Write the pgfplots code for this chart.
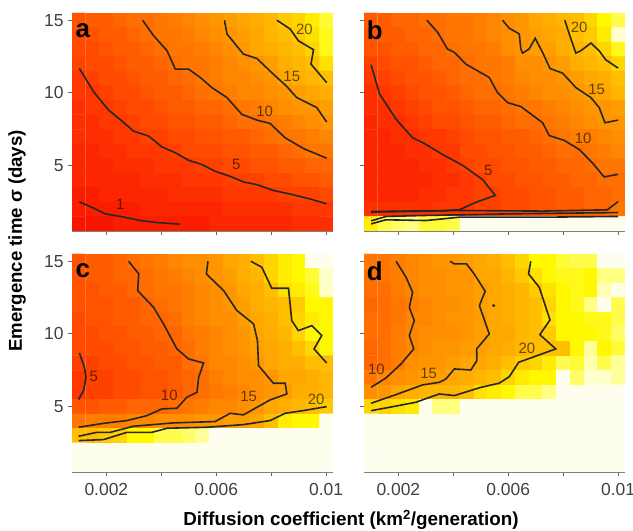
\documentclass[border=0pt]{standalone}
\usepackage{pgfplots}
\usepackage{pgfplotstable}
\pgfplotsset{compat=1.18}
\usepackage{fontspec}
\setmainfont{Liberation Sans}

% cell values, top row (y=15) first, 19 columns (x=0.001..0.01)
\pgfplotstableread[header=false,row sep=\\]{
7\\8\\8\\9\\10\\10\\11\\12\\13\\14\\15\\16\\17\\18\\19\\21\\22\\24\\27\\
6\\7\\8\\8\\9\\10\\11\\11\\12\\13\\14\\15\\16\\17\\19\\20\\21\\23\\26\\
6\\6\\7\\8\\8\\9\\10\\11\\11\\12\\13\\14\\15\\17\\18\\19\\20\\22\\26\\
5\\6\\6\\7\\8\\8\\9\\10\\11\\11\\12\\13\\14\\15\\16\\18\\19\\20\\23\\
4\\5\\6\\6\\7\\8\\8\\9\\10\\11\\12\\13\\13\\14\\15\\17\\18\\19\\20\\
4\\4\\5\\6\\6\\7\\8\\8\\9\\10\\11\\12\\13\\13\\14\\15\\16\\17\\18\\
3\\4\\4\\5\\6\\6\\7\\8\\8\\9\\9\\10\\11\\12\\13\\14\\15\\15\\16\\
3\\3\\4\\4\\5\\6\\6\\7\\7\\8\\8\\9\\10\\10\\11\\12\\13\\14\\15\\
3\\3\\3\\4\\4\\5\\5\\6\\6\\7\\7\\8\\8\\9\\10\\11\\11\\12\\13\\
2\\2\\3\\3\\4\\4\\4\\5\\6\\6\\6\\7\\7\\8\\8\\9\\10\\11\\11\\
2\\2\\2\\3\\3\\3\\4\\4\\4\\5\\5\\6\\6\\7\\7\\8\\8\\9\\9\\
2\\2\\2\\2\\2\\3\\3\\3\\4\\4\\4\\5\\5\\5\\6\\6\\7\\7\\8\\
1\\1\\2\\2\\2\\2\\2\\3\\3\\3\\3\\4\\4\\4\\4\\5\\5\\5\\6\\
1\\1\\1\\1\\1\\2\\2\\2\\2\\2\\2\\3\\3\\3\\3\\3\\4\\4\\4\\
0\\0\\0\\1\\1\\1\\1\\1\\1\\1\\2\\2\\2\\2\\2\\2\\3\\3\\3\\
}\cellsa
\pgfplotstableread[header=false,row sep=\\]{
8\\8\\9\\9\\10\\10\\11\\11\\12\\13\\14\\15\\17\\18\\19\\20\\22\\25\\28\\
7\\8\\8\\9\\9\\10\\11\\11\\12\\13\\14\\15\\16\\17\\18\\20\\21\\24\\34\\
7\\7\\8\\8\\9\\9\\10\\11\\11\\12\\14\\15\\16\\16\\18\\19\\20\\22\\26\\
5\\6\\7\\7\\8\\9\\9\\10\\11\\11\\12\\14\\14\\15\\16\\18\\19\\20\\22\\
4\\5\\6\\7\\7\\8\\9\\10\\10\\11\\12\\13\\14\\14\\15\\16\\17\\18\\20\\
3\\4\\5\\6\\7\\7\\8\\9\\10\\10\\11\\12\\13\\14\\14\\15\\16\\17\\19\\
3\\3\\4\\5\\6\\7\\7\\8\\9\\9\\10\\11\\11\\12\\13\\14\\15\\15\\16\\
2\\3\\3\\4\\5\\6\\6\\7\\8\\8\\9\\10\\10\\11\\12\\13\\14\\15\\15\\
2\\2\\3\\3\\4\\4\\5\\6\\7\\7\\8\\8\\9\\10\\11\\12\\12\\13\\14\\
2\\2\\2\\3\\3\\4\\4\\6\\6\\7\\7\\8\\8\\9\\10\\10\\11\\12\\13\\
2\\2\\2\\2\\3\\3\\4\\5\\6\\6\\7\\7\\8\\8\\9\\9\\10\\11\\11\\
2\\2\\2\\2\\2\\3\\3\\4\\5\\6\\6\\7\\7\\8\\8\\9\\9\\10\\10\\
2\\2\\2\\2\\3\\3\\4\\4\\5\\5\\6\\6\\7\\7\\8\\8\\9\\9\\10\\
3\\3\\3\\3\\3\\4\\4\\4\\5\\5\\6\\6\\7\\7\\8\\8\\9\\9\\11\\
24\\28\\29\\30\\27\\27\\28\\40\\40\\40\\40\\40\\40\\40\\40\\40\\40\\40\\40\\
}\cellsb
\pgfplotstableread[header=false,row sep=\\]{
7\\8\\8\\9\\10\\11\\12\\13\\14\\14\\15\\17\\18\\20\\22\\24\\25\\40\\40\\
7\\8\\8\\9\\9\\10\\11\\12\\13\\14\\15\\16\\18\\19\\22\\24\\25\\27\\33\\
7\\7\\8\\8\\9\\10\\11\\11\\12\\13\\14\\15\\17\\18\\20\\23\\24\\26\\33\\
7\\7\\7\\8\\8\\9\\10\\11\\12\\13\\14\\15\\16\\18\\19\\20\\21\\25\\25\\
6\\7\\7\\8\\8\\9\\9\\10\\12\\13\\14\\14\\16\\17\\18\\20\\22\\24\\25\\
6\\6\\7\\7\\8\\8\\9\\9\\11\\12\\13\\14\\15\\17\\18\\19\\22\\25\\25\\
6\\6\\6\\7\\7\\8\\8\\9\\10\\12\\13\\14\\15\\16\\17\\18\\20\\22\\25\\
5\\5\\6\\6\\7\\7\\8\\8\\10\\11\\13\\13\\14\\15\\17\\18\\18\\20\\20\\
4\\5\\5\\6\\6\\7\\7\\8\\9\\10\\12\\13\\14\\14\\15\\17\\17\\18\\19\\
4\\5\\5\\6\\6\\7\\7\\8\\9\\10\\11\\12\\13\\14\\15\\16\\18\\18\\19\\
7\\7\\8\\8\\9\\9\\9\\10\\11\\12\\13\\13\\14\\15\\17\\18\\19\\20\\21\\
11\\12\\12\\12\\13\\13\\14\\14\\14\\15\\15\\16\\16\\17\\20\\24\\25\\25\\40\\
20\\20\\21\\22\\25\\25\\28\\28\\29\\31\\40\\40\\40\\40\\40\\40\\40\\40\\40\\
40\\40\\40\\40\\40\\40\\40\\40\\40\\40\\40\\40\\40\\40\\40\\40\\40\\40\\40\\
40\\40\\40\\40\\40\\40\\40\\40\\40\\40\\40\\40\\40\\40\\40\\40\\40\\40\\40\\
}\cellsc
\pgfplotstableread[header=false,row sep=\\]{
11\\11\\12\\13\\14\\15\\15\\16\\17\\18\\20\\22\\25\\25\\27\\28\\28\\40\\40\\
10\\11\\12\\13\\14\\14\\15\\15\\17\\17\\19\\21\\23\\25\\26\\26\\25\\30\\30\\
10\\10\\12\\13\\14\\14\\15\\15\\16\\17\\18\\19\\21\\23\\25\\26\\25\\32\\38\\
9\\10\\11\\12\\13\\14\\14\\15\\16\\17\\18\\19\\20\\22\\25\\26\\30\\40\\28\\
10\\10\\11\\13\\13\\14\\15\\15\\16\\17\\18\\19\\20\\23\\25\\25\\26\\26\\28\\
10\\10\\12\\13\\14\\14\\14\\15\\16\\17\\17\\19\\20\\21\\25\\25\\25\\26\\29\\
9\\10\\12\\13\\14\\15\\15\\16\\16\\17\\18\\19\\20\\20\\20\\25\\31\\25\\27\\
9\\10\\12\\14\\15\\15\\16\\17\\17\\18\\20\\21\\22\\24\\28\\27\\32\\28\\31\\
11\\13\\14\\15\\16\\16\\17\\18\\19\\20\\22\\24\\25\\25\\40\\29\\34\\34\\31\\
14\\15\\17\\18\\19\\19\\19\\20\\23\\24\\25\\28\\28\\30\\40\\40\\40\\40\\40\\
22\\22\\23\\24\\40\\30\\30\\40\\40\\40\\40\\40\\40\\40\\40\\40\\40\\40\\40\\
40\\40\\40\\40\\40\\40\\40\\40\\40\\40\\40\\40\\40\\40\\40\\40\\40\\40\\40\\
40\\40\\40\\40\\40\\40\\40\\40\\40\\40\\40\\40\\40\\40\\40\\40\\40\\40\\40\\
40\\40\\40\\40\\40\\40\\40\\40\\40\\40\\40\\40\\40\\40\\40\\40\\40\\40\\40\\
40\\40\\40\\40\\40\\40\\40\\40\\40\\40\\40\\40\\40\\40\\40\\40\\40\\40\\40\\
}\cellsd

\pgfplotsset{
  colormap={fire}{
    rgb255(0pt)=(250,20,0) rgb255(5pt)=(255,65,0) rgb255(10pt)=(255,110,0)
    rgb255(15pt)=(255,150,0) rgb255(20pt)=(255,190,0) rgb255(25pt)=(255,248,0)
    rgb255(30pt)=(255,255,130) rgb255(33pt)=(255,255,200) rgb255(40pt)=(254,254,238)
  },
  panel/.style={
    scale only axis, width=261bp, height=218bp, anchor=south west,
    xmin=0.00075, xmax=0.01025, ymin=0.5, ymax=15.5,
    xtick={0.002,0.004,0.006,0.008,0.01}, ytick={5,10,15},
    scaled x ticks=false,
    axis x line*=bottom, axis y line*=left,
    axis line style={gray, line width=0.9bp},
    tick style={black!60, line width=0.9bp},
    tick align=outside, major tick length=4bp,
    /pgf/number format/assume math mode=true,
    tick label style={font=\fontsize{17.5}{19}\selectfont, text=black!75},
    x tick label style={yshift=-4bp},
    y tick label style={xshift=-1bp},
    point meta min=0, point meta max=40,
  },
  cells/.style={matrix plot*, mesh/cols=19, point meta=explicit},
  ctr/.style={line width=1.6bp, black!85, sharp plot, no marks},
}
\tikzset{
  lab/.style={font=\fontsize{15}{15}\selectfont, text=black, text opacity=0.6, inner sep=0pt},
  letter/.style={font=\bfseries\fontsize{26}{26}\selectfont, inner sep=0pt},
}
\newcommand{\cellplot}[1]{\addplot[cells] table[x index=0, y index=0,
  x expr={0.001+0.0005*(\coordindex-19*floor((\coordindex+0.5)/19))},
  y expr={15-floor((\coordindex+0.5)/19)}, meta index=0] {#1};}

\begin{document}
\begin{tikzpicture}
\path[use as bounding box, clip] (0,0) rectangle (633bp,531bp);

% a
\begin{axis}[panel, at={(72bp,300bp)}, xticklabels={}, yticklabels={5,10,15}]
\cellplot{\cellsa}
\draw[gray, line width=0.9bp] (rel axis cs:1,0) -- (rel axis cs:1,1);
\addplot[ctr] coordinates {(.00102,2.51) (.00154,2.07) (.00196,1.68) (.00251,1.50) (.00324,1.22) (.00384,1.08) (.00467,0.97)};
\addplot[ctr] coordinates {(.00102,11.68) (.00154,10.07) (.00208,8.82) (.00257,8.06) (.00299,7.37) (.00354,7.03) (.00402,6.29) (.00451,5.88) (.00499,5.37) (.00548,5.07) (.00596,4.61) (.00651,4.26) (.00699,3.87) (.00748,3.69) (.00808,3.29) (.00881,2.99) (.00942,2.70) (.01002,2.37)};
\addplot[ctr] coordinates {(.00332,15) (.00372,13.94) (.00421,12.90) (.00451,11.64) (.00499,11.64) (.00542,11.06) (.00584,10.37) (.00639,9.68) (.00693,8.53) (.00748,8.13) (.00796,7.90) (.00851,6.91) (.00918,6.17) (.01002,5.51)};
\addplot[ctr] coordinates {(.00630,15) (.00639,14.06) (.00699,12.67) (.00748,12.37) (.00808,11.29) (.00857,10.44) (.00893,9.68) (.00966,8.99) (.01002,8.0)};
\addplot[ctr] coordinates {(.00821,15) (.00869,14.40) (.00899,13.59) (.00954,12.97) (.00945,11.98) (.01002,10.71)};
\node[lab] at (axis cs:.00251,2.30) {1};
\node[lab] at (axis cs:.00673,5.07) {5};
\node[lab] at (axis cs:.00776,8.76) {10};
\node[lab] at (axis cs:.00875,11.13) {15};
\node[lab] at (axis cs:.00921,14.40) {20};
\node[letter] at (axis cs:.00114,14.28) {a};
\end{axis}

% b
\begin{axis}[panel, at={(364bp,300bp)}, xticklabels={}, yticklabels={}]
\cellplot{\cellsb}
\draw[gray, line width=0.9bp] (rel axis cs:1,0) -- (rel axis cs:1,1);
\addplot[ctr] coordinates {(.00101,11.94) (.00131,9.95) (.00192,8.18) (.00252,6.91) (.00295,6.52) (.00361,5.76) (.00434,5.02) (.00507,4.03) (.00553,2.95) (.00482,2.47) (.00422,1.96) (.00361,1.90) (.00101,1.84)};
\addplot[ctr] coordinates {(.00101,1.80) (.00422,1.91) (.00725,1.87) (.00961,1.96) (.01,2.53)};
\addplot[ctr] coordinates {(.00101,1.20) (.00155,1.50) (.00301,1.57) (.00604,1.68) (.01,1.77)};
\addplot[ctr] coordinates {(.00101,0.99) (.00155,1.27) (.00301,1.22) (.00422,1.45) (.00725,1.45) (.01,1.50)};
\addplot[ctr] coordinates {(.00304,15) (.00343,14.17) (.00379,13.02) (.00404,12.79) (.00446,11.98) (.00531,11.06) (.00561,10.02) (.00598,9.33) (.00646,9.06) (.00725,7.95) (.00749,7.07) (.00804,6.73) (.00858,6.11) (.00907,5.18) (.00949,4.22) (.01,4.40)};
\addplot[ctr] coordinates {(.00579,15) (.00604,14.45) (.00640,14.06) (.00646,13.02) (.00652,12.74) (.00676,13.02) (.00698,13.76) (.00725,12.79) (.00752,11.68) (.00798,11.36) (.00846,10.37) (.00901,9.68) (.00931,8.99) (.00952,7.95) (.01,8.13)};
\addplot[ctr] coordinates {(.00806,15) (.00822,14.06) (.00846,12.74) (.00864,12.90) (.00901,13.43) (.00931,12.90) (.00955,12.28) (.01,11.71)};
\node[lab] at (axis cs:.00527,4.68) {5};
\node[lab] at (axis cs:.00873,6.84) {10};
\node[lab] at (axis cs:.00922,10.21) {15};
\node[lab] at (axis cs:.00858,14.52) {20};
\node[letter] at (axis cs:.00114,14.28) {b};
\end{axis}

% c
\begin{axis}[panel, at={(72bp,59bp)}, xticklabels={0.002,,0.006,,0.01}, yticklabels={5,10,15}]
\cellplot{\cellsc}
\draw[gray, line width=0.9bp] (rel axis cs:1,0) -- (rel axis cs:1,1);
\addplot[ctr] coordinates {(.00102,8.69) (.00120,7.71) (.00126,7.02) (.00117,6.10) (.00099,5.48)};
\addplot[ctr] coordinates {(.00281,15) (.00318,14.13) (.00314,12.98) (.00372,11.83) (.00408,10.69) (.00457,8.97) (.00499,8.28) (.00554,8.0) (.00536,7.02) (.00530,5.99) (.00493,5.64) (.00457,4.89) (.00402,4.84) (.00348,4.38) (.00275,4.04) (.00190,3.85) (.00099,3.58)};
\addplot[ctr] coordinates {(.00570,15) (.00564,14.13) (.00627,12.98) (.00675,11.61) (.00736,10.69) (.00750,9.54) (.00754,7.82) (.00808,6.61) (.00851,6.61) (.00857,5.87) (.00796,5.46) (.00699,4.43) (.00651,4.54) (.00596,3.97) (.00445,3.88) (.00299,3.65) (.00215,3.23) (.00166,3.23) (.00099,2.96)};
\addplot[ctr] coordinates {(.00726,15) (.00766,14.59) (.00802,13.14) (.00863,13.14) (.00875,10.92) (.00899,10.23) (.00948,10.57) (.00984,9.89) (.00956,8.97) (.01002,8.0)};
\addplot[ctr] coordinates {(.00099,2.66) (.00190,2.73) (.00275,3.23) (.00366,3.23) (.00421,3.51) (.00566,3.58) (.00699,3.76) (.00796,4.04) (.00851,4.54) (.00918,4.73) (.01002,5.0)};
\node[lab] at (axis cs:.00154,7.06) {5};
\node[lab] at (axis cs:.00429,5.80) {10};
\node[lab] at (axis cs:.00718,5.69) {15};
\node[lab] at (axis cs:.00964,5.48) {20};
\node[letter] at (axis cs:.00114,14.33) {c};
\end{axis}

% d
\begin{axis}[panel, at={(364bp,59bp)}, xticklabels={0.002,,0.006,,0.01}, yticklabels={}]
\cellplot{\cellsd}
\draw[gray, line width=0.9bp] (rel axis cs:1,0) -- (rel axis cs:1,1);
\addplot[ctr] coordinates {(.00192,15) (.00228,13.90) (.00252,12.87) (.00240,11.83) (.00258,10.92) (.00240,9.89) (.00256,8.97) (.00210,7.94) (.00155,6.97) (.00101,6.33)};
\addplot[ctr] coordinates {(.00388,15) (.00404,14.82) (.00448,14.82) (.00476,14.13) (.00516,12.94) (.00495,11.95) (.00531,10.0) (.00485,8.97) (.00486,8.17) (.00464,7.52) (.00404,7.59) (.00373,6.90) (.00349,6.67) (.00288,6.49) (.00192,5.83) (.00101,5.23)};
\addplot[ctr] coordinates {(.00682,15) (.00674,14.13) (.00713,13.21) (.00752,10.96) (.00715,9.95) (.00773,8.97) (.00638,8.05) (.00604,7.06) (.00567,6.61) (.00501,6.33) (.00404,5.76) (.00349,5.87) (.00264,5.30) (.00167,4.95) (.00101,4.72)};
\addplot[only marks, mark=*, mark size=1.3bp, black!85] coordinates {(.00547,11.95)};
\node[lab] at (axis cs:.00120,7.55) {10};
\node[lab] at (axis cs:.00310,7.25) {15};
\node[lab] at (axis cs:.00668,9.04) {20};
\node[letter] at (axis cs:.00114,14.33) {d};
\end{axis}

\node[font=\bfseries\fontsize{18.7}{20}\selectfont, rotate=90] at (17bp,290bp) {Emergence time σ (days)};
\node[font=\bfseries\fontsize{18.9}{20}\selectfont] at (351bp,11bp) {Diffusion coefficient (km\textsuperscript{2}/generation)};
\end{tikzpicture}
\end{document}
